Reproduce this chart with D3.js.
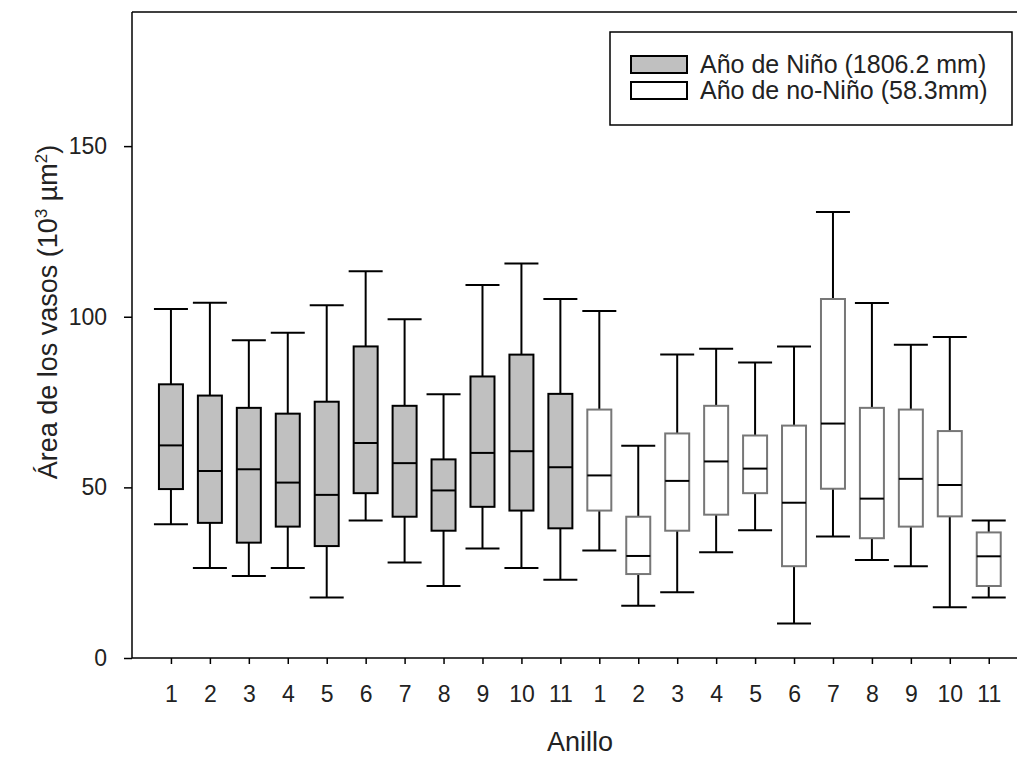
<!DOCTYPE html>
<html>
<head>
<meta charset="utf-8">
<script src="https://d3js.org/d3.v7.min.js"></script>
<style>
  body { margin: 0; background: #fff; }
  svg { display: block; font-family: Arial, "Liberation Sans", sans-serif; }
  .axis .domain { display: none; }
  .axis line { stroke: #000; stroke-width: 1.5; }
  .axis text { fill: #222; font-size: 23px; }
</style>
</head>
<body>
<script>
// ring number labels, two groups (Niño year / no-Niño year)
var tickLabels = ['1','2','3','4','5','6','7','8','9','10','11','1','2','3','4','5','6','7','8','9','10','11'];
var nino = [1,1,1,1,1,1,1,1,1,1,1,0,0,0,0,0,0,0,0,0,0,0];

// box statistics, 10^3 µm2
var whiskerLow  = [39.2, 26.4, 24.0, 26.4, 17.7, 40.3, 28.0, 21.1, 32.1, 26.4, 22.9,
                   31.5, 15.3, 19.3, 31.0, 37.4, 10.1, 35.6, 28.7, 26.9, 14.9, 17.7];
var q1          = [49.5, 39.6, 33.8, 38.5, 32.8, 48.3, 41.4, 37.3, 44.3, 43.2, 38.0,
                   43.2, 24.6, 37.3, 42.0, 48.3, 26.9, 49.6, 35.1, 38.5, 41.5, 21.1];
var medians     = [62.3, 54.8, 55.3, 51.4, 47.8, 63.0, 57.1, 49.1, 60.1, 60.6, 55.9,
                   53.5, 29.9, 51.9, 57.6, 55.5, 45.5, 68.7, 46.7, 52.5, 50.7, 29.8];
var q3          = [80.2, 76.9, 73.3, 71.6, 75.1, 91.3, 73.9, 58.2, 82.5, 88.9, 77.4,
                   72.8, 41.4, 65.8, 73.9, 65.2, 68.1, 105.2, 73.3, 72.8, 66.5, 36.8];
var whiskerHigh = [102.3, 104.1, 93.1, 95.3, 103.4, 113.3, 99.3, 77.3, 109.3, 115.6, 105.2,
                   101.7, 62.2, 88.9, 90.6, 86.6, 91.3, 130.7, 104.0, 91.8, 94.1, 40.3];

var yTicks = [0, 50, 100, 150];
var legendLabels = ['Año de Niño (1806.2 mm)', 'Año de no-Niño (58.3mm)'];

var width = 1017, height = 760;
var plotLeft = 132, plotTop = 12, plotBottom = 658;

var svg = d3.select('body').append('svg')
  .attr('width', width).attr('height', height);

var x = d3.scaleLinear().domain([0, 22.7]).range([plotLeft, width - 1]);
var y = d3.scaleLinear().domain([0, 189.3]).range([plotBottom, plotTop]);

var boxes = tickLabels.map(function(t, i) {
  return { i: i + 1, nino: nino[i], lo: whiskerLow[i], q1: q1[i], med: medians[i], q3: q3[i], hi: whiskerHigh[i] };
});

// frame lines: left axis, bottom axis, top line
svg.append('line').attr('x1', plotLeft).attr('x2', plotLeft).attr('y1', plotTop).attr('y2', plotBottom)
  .attr('stroke', '#000').attr('stroke-width', 1.5);
svg.append('line').attr('x1', plotLeft).attr('x2', width).attr('y1', plotTop).attr('y2', plotTop)
  .attr('stroke', '#000').attr('stroke-width', 1.5);
svg.append('line').attr('x1', plotLeft).attr('x2', width).attr('y1', plotBottom).attr('y2', plotBottom)
  .attr('stroke', '#000').attr('stroke-width', 1.5);

svg.append('g').attr('class', 'y axis')
  .attr('transform', 'translate(' + plotLeft + ',0)')
  .call(d3.axisLeft(y).tickValues(yTicks).tickSize(8).tickPadding(17));

svg.append('g').attr('class', 'x axis')
  .attr('transform', 'translate(0,' + plotBottom + ')')
  .call(d3.axisBottom(x).tickValues(d3.range(1, 23)).tickSize(6).tickPadding(22)
    .tickFormat(function(d) { return tickLabels[d - 1]; }));

var boxW = 24, capW = 34;
var g = svg.selectAll('.box').data(boxes).enter().append('g').attr('class', 'box');

// whiskers
g.append('line').attr('x1', function(d) { return x(d.i); }).attr('x2', function(d) { return x(d.i); })
  .attr('y1', function(d) { return y(d.hi); }).attr('y2', function(d) { return y(d.lo); })
  .attr('stroke', '#000').attr('stroke-width', 2);
g.append('line').attr('x1', function(d) { return x(d.i) - capW / 2; }).attr('x2', function(d) { return x(d.i) + capW / 2; })
  .attr('y1', function(d) { return y(d.hi); }).attr('y2', function(d) { return y(d.hi); })
  .attr('stroke', '#000').attr('stroke-width', 2);
g.append('line').attr('x1', function(d) { return x(d.i) - capW / 2; }).attr('x2', function(d) { return x(d.i) + capW / 2; })
  .attr('y1', function(d) { return y(d.lo); }).attr('y2', function(d) { return y(d.lo); })
  .attr('stroke', '#000').attr('stroke-width', 2);

// boxes
g.append('rect')
  .attr('x', function(d) { return x(d.i) - boxW / 2; })
  .attr('width', boxW)
  .attr('y', function(d) { return y(d.q3); })
  .attr('height', function(d) { return y(d.q1) - y(d.q3); })
  .attr('fill', function(d) { return d.nino ? '#c0c0c0' : '#fff'; })
  .attr('stroke', function(d) { return d.nino ? '#000' : '#777'; })
  .attr('stroke-width', 2);

// medians
g.append('line').attr('x1', function(d) { return x(d.i) - boxW / 2; }).attr('x2', function(d) { return x(d.i) + boxW / 2; })
  .attr('y1', function(d) { return y(d.med); }).attr('y2', function(d) { return y(d.med); })
  .attr('stroke', '#000').attr('stroke-width', 2);

// axis titles
var yt = svg.append('text')
  .attr('transform', 'translate(57,312) rotate(-90)')
  .attr('text-anchor', 'middle').attr('font-size', 27).attr('fill', '#222');
yt.append('tspan').text('Área de los vasos (10');
yt.append('tspan').attr('font-size', 17).attr('dy', -10).text('3');
yt.append('tspan').attr('dy', 10).text(' µm');
yt.append('tspan').attr('font-size', 17).attr('dy', -10).text('2');
yt.append('tspan').attr('dy', 10).text(')');

svg.append('text').attr('x', 580).attr('y', 751).attr('text-anchor', 'middle')
  .attr('font-size', 27).attr('fill', '#222').text('Anillo');

// legend
var lg = svg.append('g');
lg.append('rect').attr('x', 610).attr('y', 32).attr('width', 402).attr('height', 93)
  .attr('fill', '#fff').attr('stroke', '#000').attr('stroke-width', 1.5);
var rows = lg.selectAll('.row').data(legendLabels).enter().append('g')
  .attr('transform', function(d, i) { return 'translate(0,' + (64.5 + i * 26) + ')'; });
rows.append('rect').attr('x', 631).attr('y', -8.5).attr('width', 56).attr('height', 17)
  .attr('fill', function(d, i) { return i === 0 ? '#c0c0c0' : '#fff'; })
  .attr('stroke', '#000').attr('stroke-width', 2);
rows.append('text').attr('x', 700).attr('y', 8.5).attr('font-size', 25).attr('fill', '#222')
  .text(function(d) { return d; });
</script>
</body>
</html>
